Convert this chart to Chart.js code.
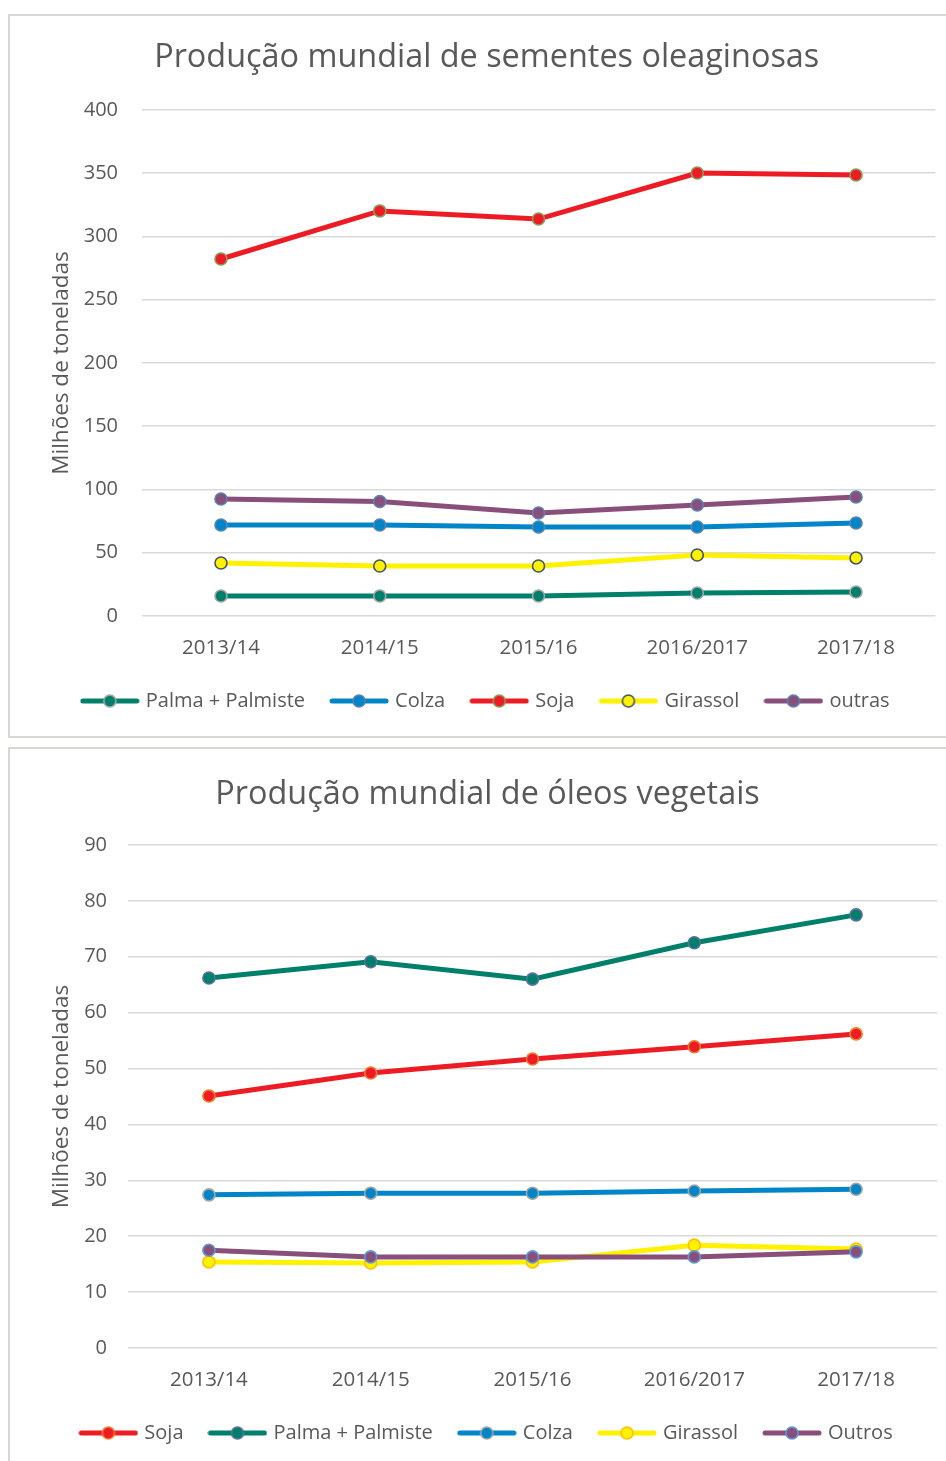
<!DOCTYPE html>
<html lang="pt">
<head>
<meta charset="utf-8">
<title>Produção mundial de sementes oleaginosas e óleos vegetais</title>
<script src="https://cdn.jsdelivr.net/npm/chart.js@4.4.1/dist/chart.umd.min.js"></script>
<style>
  html, body { margin: 0; padding: 0; background: #ffffff; }
  body { width: 946px; height: 1461px; position: relative; overflow: hidden; }
  .box { position: absolute; border: 2px solid #d9d6d3; background: #fff; box-sizing: border-box; }
  #box1 { left: 8px; top: 14px; width: 942px; height: 724px; }
  #box2 { left: 8px; top: 747px; width: 942px; height: 720px; }
  canvas { display: block; }
</style>
</head>
<body>
<div class="box" id="box1"><canvas id="sementes" width="938" height="720"></canvas></div>
<div class="box" id="box2"><canvas id="oleos" width="938" height="716"></canvas></div>
<script>
// Campanhas (eixo das categorias)
const campanhas = ['2013/14', '2014/15', '2015/16', '2016/2017', '2017/18'];

// Sementes oleaginosas, milhões de toneladas
const sementesPalma    = [15.8, 15.8, 15.8, 18.2, 19.0];
const sementesColza    = [71.9, 71.9, 70.4, 70.4, 73.5];
const sementesSoja     = [282.2, 320.2, 313.8, 350.2, 348.6];
const sementesGirassol = [41.9, 39.5, 39.5, 48.2, 45.9];
const sementesOutras   = [92.5, 90.5, 81.4, 87.7, 94.1];
const sementesTicks    = [0, 50, 100, 150, 200, 250, 300, 350, 400];

// Óleos vegetais, milhões de toneladas
const oleosSoja     = [45.1, 49.2, 51.7, 53.9, 56.2];
const oleosPalma    = [66.2, 69.1, 66.0, 72.5, 77.5];
const oleosColza    = [27.4, 27.7, 27.7, 28.1, 28.4];
const oleosGirassol = [15.4, 15.2, 15.4, 18.4, 17.7];
const oleosOutros   = [17.5, 16.3, 16.3, 16.3, 17.2];
const oleosTicks    = [0, 10, 20, 30, 40, 50, 60, 70, 80, 90];

const TEXTO = '#595959';
const GRELHA = '#d9d9d9';
const FONTE = "'Open Sans', 'Noto Sans', sans-serif";

const COR = {
  palma: '#00806a',
  colza: '#0085c8',
  soja: '#ed1c24',
  girassol: '#fff200',
  outras: '#884f7b'
};

// Legend swatch: a short line with the marker in its middle
function amostra(linha, preenchimento, contorno) {
  const c = document.createElement('canvas');
  c.width = 60; c.height = 16;
  const g = c.getContext('2d');
  g.strokeStyle = linha; g.lineWidth = 5; g.lineCap = 'round';
  g.beginPath(); g.moveTo(3, 8); g.lineTo(57, 8); g.stroke();
  g.beginPath(); g.arc(30, 8, 6, 0, Math.PI * 2);
  g.fillStyle = preenchimento; g.fill();
  g.lineWidth = 1.6; g.strokeStyle = contorno; g.stroke();
  return c;
}

function serie(rotulo, dados, cor, contorno) {
  return {
    label: rotulo,
    data: dados,
    borderColor: cor,
    backgroundColor: cor,
    borderWidth: 5,
    pointRadius: 6,
    pointHoverRadius: 6,
    pointBackgroundColor: cor,
    pointBorderColor: contorno,
    pointBorderWidth: 1.6,
    tension: 0,
    amostra: amostra(cor, cor, contorno)
  };
}

function grafico(id, titulo, series, ticks, geo) {
  const maximo = ticks[ticks.length - 1];
  const passo = ticks[1] - ticks[0];
  return new Chart(document.getElementById(id), {
    type: 'line',
    // later series are listed first so they are painted on top
    data: { labels: campanhas, datasets: series.slice().reverse() },
    options: {
      responsive: false,
      animation: false,
      events: [],
      layout: { padding: { left: 28, right: geo.right, top: 0, bottom: geo.bottom } },
      plugins: {
        tooltip: { enabled: false },
        title: {
          display: true,
          text: titulo,
          color: TEXTO,
          font: { family: FONTE, size: 32.4, weight: 'normal', lineHeight: 1.2 },
          padding: { top: geo.titleTop, bottom: geo.titleBottom }
        },
        legend: {
          position: 'bottom',
          reverse: true,
          labels: {
            color: TEXTO,
            font: { family: FONTE, size: 20 },
            usePointStyle: true,
            pointStyleWidth: 52,
            padding: 28,
            generateLabels(chart) {
              const itens = Chart.defaults.plugins.legend.labels.generateLabels(chart);
              itens.forEach(it => { it.pointStyle = chart.data.datasets[it.datasetIndex].amostra; });
              return itens;
            }
          }
        }
      },
      scales: {
        x: {
          offset: true,
          grid: { display: false, drawTicks: false },
          border: { display: false },
          ticks: { color: TEXTO, font: { family: FONTE, size: 20.5 }, padding: 19.5, maxRotation: 0 },
          afterFit(s) { s.height = 47; }
        },
        y: {
          min: 0,
          max: maximo,
          grid: { color: GRELHA, lineWidth: 1.5, drawTicks: false },
          border: { display: false },
          ticks: { stepSize: passo, color: TEXTO, font: { family: FONTE, size: 20 }, padding: geo.tickPad },
          title: {
            display: true,
            text: 'Milhões de toneladas',
            color: TEXTO,
            font: { family: FONTE, size: 22.5 },
            padding: { top: 10, bottom: 0 }
          },
          afterFit(s) { s.width = geo.yWidth; }
        }
      }
    }
  });
}

grafico('sementes', 'Produção mundial de sementes oleaginosas', [
  serie('Palma + Palmiste', sementesPalma, COR.palma, '#a5a5a5'),
  serie('Colza', sementesColza, COR.colza, '#5b82b0'),
  serie('Soja', sementesSoja, COR.soja, '#8a9a5b'),
  serie('Girassol', sementesGirassol, COR.girassol, '#44546a'),
  serie('outras', sementesOutras, COR.outras, '#5b82b0')
], sementesTicks, { right: 12.6, bottom: 15, titleTop: 22.6, titleBottom: 32.5, yWidth: 103.6, tickPad: 23.6 });

grafico('oleos', 'Produção mundial de óleos vegetais', [
  serie('Soja', oleosSoja, COR.soja, '#ed7d31'),
  serie('Palma + Palmiste', oleosPalma, COR.palma, '#5a6fa0'),
  serie('Colza', oleosColza, COR.colza, '#a5a5a5'),
  serie('Girassol', oleosGirassol, COR.girassol, '#ffc000'),
  serie('Outros', oleosOutros, COR.outras, '#5b9bd5')
], oleosTicks, { right: 11, bottom: 12, titleTop: 26.6, titleBottom: 30.5, yWidth: 90, tickPad: 21 });
</script>
</body>
</html>
